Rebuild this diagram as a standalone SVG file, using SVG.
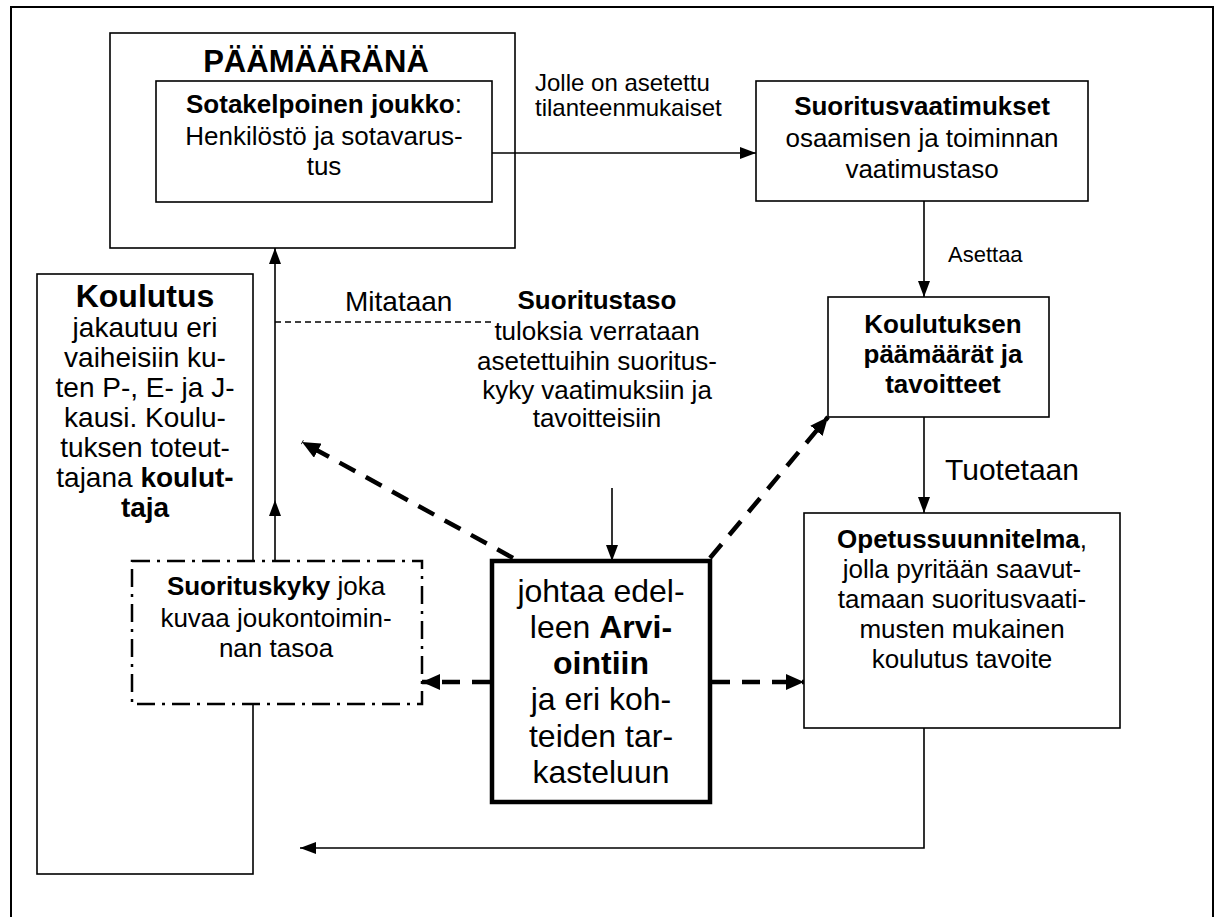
<svg xmlns="http://www.w3.org/2000/svg" width="1220" height="917" viewBox="0 0 1220 917">
<style>
text{font-family:"Liberation Sans",Arial,sans-serif;fill:#000;text-anchor:middle}
.b{font-weight:bold}
.box{fill:#fff;stroke:#000;stroke-width:1.6}
.ln{fill:none;stroke:#000;stroke-width:1.6}
.thk{fill:none;stroke:#000;stroke-width:4.5;stroke-dasharray:18 12}
.f26{font-size:26px}
</style>
<defs>
<marker id="ah" viewBox="0 0 16 12" refX="16" refY="6" markerWidth="16" markerHeight="12" markerUnits="userSpaceOnUse" orient="auto"><path d="M0,0 L16,6 L0,12 z"/></marker>
<marker id="ahb" viewBox="0 0 18 16" refX="18" refY="8" markerWidth="18" markerHeight="16" markerUnits="userSpaceOnUse" orient="auto"><path d="M0,0 L18,8 L0,16 z"/></marker>
</defs>
<rect x="11" y="7" width="1202" height="940" fill="#fff" stroke="#000" stroke-width="2"/>

<g id="paamaarana">
<rect class="box" x="110" y="33" width="405" height="215"/>
<text class="b" x="316" y="72" font-size="31">PÄÄMÄÄRÄNÄ</text>
</g>
<g id="sotakelpoinen">
<rect class="box" x="156" y="81" width="336" height="121"/>
<text class="f26" x="324" y="113"><tspan class="b">Sotakelpoinen joukko</tspan>:</text>
<text class="f26" x="324" y="145">Henkilöstö ja sotavarus-</text>
<text class="f26" x="324" y="175">tus</text>
</g>
<g id="suoritusvaatimukset">
<rect class="box" x="756" y="81" width="332" height="120"/>
<text class="f26 b" x="922" y="115">Suoritusvaatimukset</text>
<text class="f26" x="922" y="147">osaamisen ja toiminnan</text>
<text class="f26" x="922" y="178">vaatimustaso</text>
</g>
<g id="koulutus">
<rect class="box" x="37" y="274" width="216" height="600"/>
<text class="b" x="145" y="307" font-size="32">Koulutus</text>
<text x="145" y="337" font-size="28">jakautuu eri</text>
<text x="145" y="367" font-size="28">vaiheisiin ku-</text>
<text x="145" y="397" font-size="28">ten P-, E- ja J-</text>
<text x="145" y="427" font-size="28">kausi. Koulu-</text>
<text x="145" y="457" font-size="28">tuksen toteut-</text>
<text x="145" y="487" font-size="28">tajana <tspan class="b">koulut-</tspan></text>
<text class="b" x="145" y="517" font-size="28">taja</text>
</g>
<g id="koulutuksen-paamaarat">
<rect class="box" x="828" y="297" width="221" height="120"/>
<text class="f26 b" x="943" y="333">Koulutuksen</text>
<text class="f26 b" x="943" y="363">päämäärät ja</text>
<text class="f26 b" x="943" y="393">tavoitteet</text>
</g>
<g id="opetussuunnitelma">
<rect class="box" x="804" y="513" width="316" height="215"/>
<text class="f26" x="962" y="548"><tspan class="b">Opetussuunnitelma</tspan>,</text>
<text class="f26" x="962" y="578">jolla pyritään saavut-</text>
<text class="f26" x="962" y="608">tamaan suoritusvaati-</text>
<text class="f26" x="962" y="638">musten mukainen</text>
<text class="f26" x="962" y="668">koulutus tavoite</text>
</g>
<g id="suorituskyky">
<rect x="132" y="561" width="290" height="143" fill="#fff" stroke="#000" stroke-width="2.5" stroke-dasharray="18 7 3 7"/>
<text class="f26" x="276" y="595"><tspan class="b">Suorituskyky</tspan> joka</text>
<text class="f26" x="276" y="627">kuvaa joukontoimin-</text>
<text class="f26" x="276" y="657">nan tasoa</text>
</g>
<g id="suoritustaso">
<text class="f26 b" x="597" y="309">Suoritustaso</text>
<text class="f26" x="597" y="340">tuloksia verrataan</text>
<text class="f26" x="597" y="370">asetettuihin suoritus-</text>
<text class="f26" x="597" y="399">kyky vaatimuksiin ja</text>
<text class="f26" x="597" y="427">tavoitteisiin</text>
</g>
<g id="arviointi">
<rect x="492" y="561" width="218" height="241" fill="#fff" stroke="#000" stroke-width="4.5"/>
<text x="601" y="602" font-size="32">johtaa edel-</text>
<text x="601" y="638" font-size="32">leen <tspan class="b">Arvi-</tspan></text>
<text class="b" x="601" y="674" font-size="32">ointiin</text>
<text x="601" y="710" font-size="32">ja eri koh-</text>
<text x="601" y="747" font-size="32">teiden tar-</text>
<text x="601" y="783" font-size="32">kasteluun</text>
</g>
<g id="connectors">
<line class="ln" x1="492" y1="153" x2="756" y2="153" marker-end="url(#ah)"/>
<line class="ln" x1="924" y1="201" x2="924" y2="297" marker-end="url(#ah)"/>
<line class="ln" x1="924" y1="417" x2="924" y2="513" marker-end="url(#ah)"/>
<polyline class="ln" points="924,728 924,848 300,848" marker-end="url(#ah)"/>
<line class="ln" x1="275" y1="561" x2="275" y2="500" marker-end="url(#ah)"/>
<line class="ln" x1="275" y1="500" x2="275" y2="248" marker-end="url(#ah)"/>
<line x1="275" y1="322" x2="493" y2="322" stroke="#000" stroke-width="1.3" stroke-dasharray="6 4"/>
<line class="ln" x1="612" y1="488" x2="612" y2="561" marker-end="url(#ah)"/>
<line class="thk" x1="513" y1="558" x2="302" y2="442" marker-end="url(#ahb)"/>
<line class="thk" x1="710" y1="558" x2="828" y2="417" marker-end="url(#ahb)"/>
<line class="thk" x1="490" y1="682" x2="422" y2="682" marker-end="url(#ahb)"/>
<line class="thk" x1="712" y1="682" x2="804" y2="682" marker-end="url(#ahb)"/>
<text x="535" y="91" font-size="24" style="text-anchor:start">Jolle on asetettu</text>
<text x="535" y="116" font-size="24" style="text-anchor:start">tilanteenmukaiset</text>
<text x="948" y="262" font-size="22" style="text-anchor:start">Asettaa</text>
<text x="945" y="480" font-size="30" style="text-anchor:start">Tuotetaan</text>
<text x="345" y="311" font-size="28" style="text-anchor:start">Mitataan</text>
</g>
</svg>
